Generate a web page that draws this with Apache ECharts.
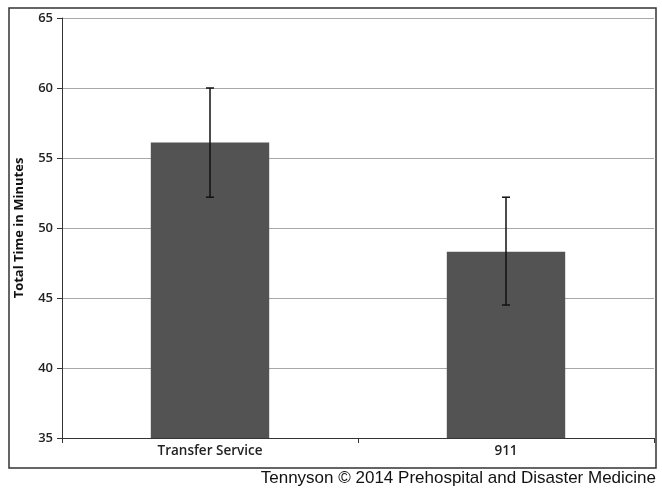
<!DOCTYPE html>
<html>
<head>
<meta charset="utf-8">
<script src="https://cdn.jsdelivr.net/npm/echarts@6/dist/echarts.min.js"></script>
<style>
  html, body { margin: 0; padding: 0; background: #fff; }
  #chart { width: 662px; height: 489px; }
</style>
</head>
<body>
<div id="chart"></div>
<script>
// Mean total time per transport route, with error-bar limits
const categories = ['Transfer Service', '911'];
const meanMinutes = [56.1, 48.3];
const errorLow = [52.2, 44.5];
const errorHigh = [60.0, 52.2];

const yTicks = { min: 35, max: 65, interval: 5 };

const chart = echarts.init(document.getElementById('chart'));

const errorData = categories.map((c, i) => [i, errorLow[i], errorHigh[i]]);

chart.setOption({
  animation: false,
  backgroundColor: '#fff',
  grid: { left: 62, right: 8, top: 18, bottom: 51 },
  xAxis: {
    type: 'category',
    data: categories,
    axisLine: { lineStyle: { color: '#333', width: 1 } },
    axisTick: { show: true, alignWithLabel: false, length: 5, lineStyle: { color: '#333' } },
    axisLabel: {
      color: '#222', fontFamily: 'Open Sans', fontWeight: 600, fontSize: 13.5, margin: 6
    }
  },
  yAxis: {
    type: 'value',
    min: yTicks.min, max: yTicks.max, interval: yTicks.interval,
    name: 'Total Time in Minutes',
    nameLocation: 'middle',
    nameGap: 36,
    nameTextStyle: { color: '#111', fontFamily: 'Open Sans', fontWeight: 'bold', fontSize: 13 },
    axisLine: { show: true, lineStyle: { color: '#333', width: 1 } },
    axisTick: { show: true, length: 5, lineStyle: { color: '#333' } },
    axisLabel: {
      color: '#222', fontFamily: 'Open Sans', fontWeight: 600, fontSize: 13, margin: 9
    },
    splitLine: { show: true, lineStyle: { color: '#a8a8a8', width: 1 } }
  },
  series: [
    {
      type: 'bar',
      data: meanMinutes,
      barWidth: '40%',
      itemStyle: { color: '#535353' },
      z: 2
    },
    {
      type: 'custom',
      data: errorData,
      z: 3,
      renderItem: function (params, api) {
        const x = api.value(0);
        const lo = api.coord([x, api.value(1)]);
        const hi = api.coord([x, api.value(2)]);
        const cap = 4;
        const style = { stroke: '#111', lineWidth: 1.5 };
        return {
          type: 'group',
          children: [
            { type: 'line', shape: { x1: hi[0], y1: hi[1], x2: lo[0], y2: lo[1] }, style },
            { type: 'line', shape: { x1: hi[0] - cap, y1: hi[1], x2: hi[0] + cap, y2: hi[1] }, style },
            { type: 'line', shape: { x1: lo[0] - cap, y1: lo[1], x2: lo[0] + cap, y2: lo[1] }, style }
          ]
        };
      }
    }
  ],
  graphic: [
    {
      type: 'rect',
      shape: { x: 9, y: 8, width: 647, height: 460 },
      style: { fill: 'none', stroke: '#333', lineWidth: 1.5 },
      silent: true,
      z: 0
    },
    {
      type: 'text',
      right: 6,
      top: 470,
      style: {
        text: 'Tennyson \u00A9 2014 Prehospital and Disaster Medicine',
        fill: '#111',
        font: '17px "Liberation Sans", Arial, sans-serif'
      }
    }
  ]
});
</script>
</body>
</html>
